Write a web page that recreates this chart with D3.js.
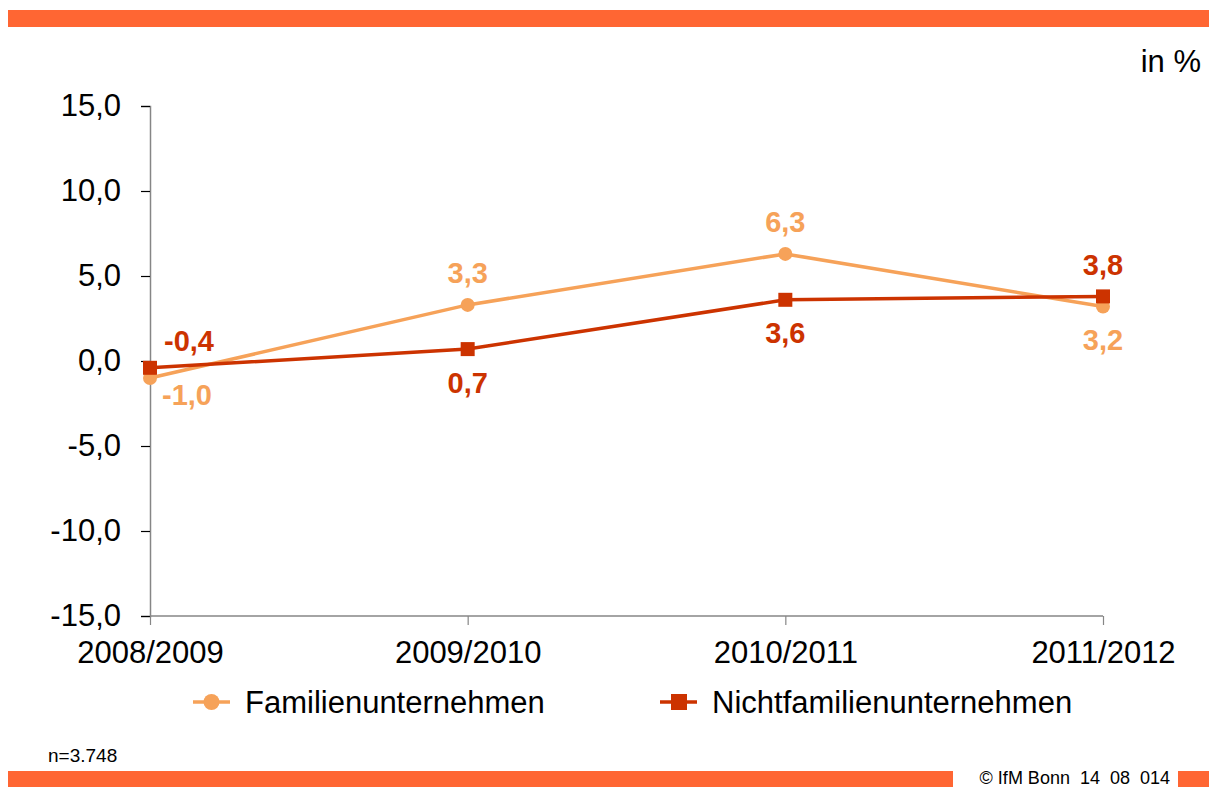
<!DOCTYPE html>
<html>
<head>
<meta charset="utf-8">
<script src="https://cdn.jsdelivr.net/npm/d3@7"></script>
<style>
  body { margin: 0; background: #fff; }
  svg { display: block; font-family: "Liberation Sans", Arial, sans-serif; }
</style>
</head>
<body>
<svg id="chart" width="1209" height="787"></svg>
<script>
// data
const years = ["2008/2009", "2009/2010", "2010/2011", "2011/2012"];
const familien = [-1.0, 3.3, 6.3, 3.2];
const nichtFamilien = [-0.4, 0.7, 3.6, 3.8];
const yTicks = [15, 10, 5, 0, -5, -10, -15];

const orangeLight = "#F6A259";
const redDark = "#CC3300";
const barColor = "#FF6633";

const svg = d3.select("#chart");
const fmt = v => d3.format(".1f")(v).replace(".", ",").replace("−", "-");

// orange bars top and bottom
svg.append("rect").attr("x", 8).attr("y", 10).attr("width", 1201).attr("height", 17).attr("fill", barColor);
svg.append("rect").attr("x", 8).attr("y", 771).attr("width", 945).attr("height", 16).attr("fill", barColor);
svg.append("rect").attr("x", 1178).attr("y", 771).attr("width", 31).attr("height", 16).attr("fill", barColor);
svg.append("text").attr("x", 1170).attr("y", 784).attr("text-anchor", "end")
  .style("white-space", "pre")
  .attr("font-size", 18).attr("fill", "#000").text("© IfM Bonn  14  08  014");
svg.append("text").attr("x", 48).attr("y", 762).attr("font-size", 19).attr("fill", "#000").text("n=3.748");

svg.append("text").attr("x", 1201).attr("y", 72).attr("text-anchor", "end")
  .attr("font-size", 31).attr("fill", "#000").text("in %");

// scales
const x = d3.scalePoint().domain(years).range([150, 1103]);
const y = d3.scaleLinear().domain([-15, 15]).range([616, 106]);

// y axis
const yAxis = d3.axisLeft(y).tickValues(yTicks).tickSize(9).tickFormat(fmt);
const gy = svg.append("g").attr("transform", "translate(150,0)").call(yAxis);
gy.select(".domain").attr("stroke", "#868686").attr("stroke-width", 1.5);
gy.selectAll(".tick line").attr("stroke", "#000").attr("stroke-width", 1.2);
gy.selectAll(".tick text").attr("font-size", 31).attr("fill", "#000")
  .attr("font-family", "Liberation Sans, Arial, sans-serif").attr("x", -29);

// x axis
const xAxis = d3.axisBottom(x).tickSize(9).tickSizeOuter(0);
const gx = svg.append("g").attr("transform", "translate(0,616)").call(xAxis);
gx.select(".domain").attr("stroke", "#868686").attr("stroke-width", 1.5).attr("d", "M150,0H1103");
gx.selectAll(".tick line").attr("stroke", "#868686").attr("stroke-width", 1.2);
gx.selectAll(".tick text").attr("font-size", 31).attr("fill", "#000")
  .attr("font-family", "Liberation Sans, Arial, sans-serif").attr("y", 25);

// lines
const line = d3.line().x((d, i) => x(years[i])).y(d => y(d));
svg.append("path").datum(familien).attr("d", line).attr("fill", "none")
  .attr("stroke", orangeLight).attr("stroke-width", 3.5);
svg.append("path").datum(nichtFamilien).attr("d", line).attr("fill", "none")
  .attr("stroke", redDark).attr("stroke-width", 3.5);

svg.selectAll(".dotF").data(familien).enter().append("circle")
  .attr("cx", (d, i) => x(years[i])).attr("cy", d => y(d)).attr("r", 7).attr("fill", orangeLight);
svg.selectAll(".dotN").data(nichtFamilien).enter().append("rect")
  .attr("x", (d, i) => x(years[i]) - 7).attr("y", d => y(d) - 7)
  .attr("width", 14).attr("height", 14).attr("fill", redDark);

// data labels: baseline offset from the point
const offF = [27, -22, -22, 43];
const offN = [-17, 44, 43, -21];
const dxF = [37, 0, 0, 0];
const dxN = [39, 0, 0, 0];
svg.selectAll(".lblF").data(familien).enter().append("text")
  .attr("x", (d, i) => x(years[i]) + dxF[i])
  .attr("y", (d, i) => y(d) + offF[i])
  .attr("text-anchor", "middle").attr("font-size", 29).attr("font-weight", "bold")
  .attr("fill", orangeLight).text(fmt);
svg.selectAll(".lblN").data(nichtFamilien).enter().append("text")
  .attr("x", (d, i) => x(years[i]) + dxN[i])
  .attr("y", (d, i) => y(d) + offN[i])
  .attr("text-anchor", "middle").attr("font-size", 29).attr("font-weight", "bold")
  .attr("fill", redDark).text(fmt);

// legend
const legend = [
  {name: "Familienunternehmen", color: orangeLight, shape: "circle", x: 193},
  {name: "Nichtfamilienunternehmen", color: redDark, shape: "rect", x: 660}
];
legend.forEach(l => {
  const g = svg.append("g").attr("transform", "translate(" + l.x + ",702)");
  g.append("line").attr("x1", 0).attr("x2", 37).attr("stroke", l.color).attr("stroke-width", 3.5);
  if (l.shape === "circle") g.append("circle").attr("cx", 18.5).attr("r", 8).attr("fill", l.color);
  else g.append("rect").attr("x", 11).attr("y", -8).attr("width", 16).attr("height", 16).attr("fill", l.color);
  g.append("text").attr("x", 52).attr("y", 11).attr("font-size", 31).attr("fill", "#000").text(l.name);
});
</script>
</body>
</html>
